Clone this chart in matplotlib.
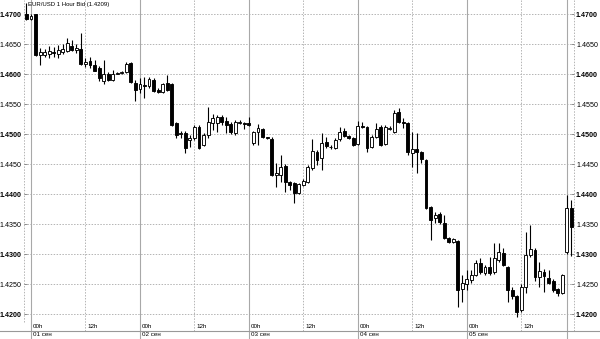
import matplotlib
matplotlib.use('Agg')
import matplotlib.pyplot as plt

plt.rcParams['font.family'] = ['Liberation Sans', 'DejaVu Sans']

# hourly bars, hour 0 = 01 сен 00h (first bar is sunday 23h)
hours = list(range(-1, 120))

opens = [1.4700, 1.4692, 1.4700, 1.4632, 1.4632, 1.4634, 1.4637, 1.4634, 1.4637, 1.4639,
         1.4647, 1.4640, 1.4642, 1.4617, 1.4622, 1.4616, 1.4610, 1.4589, 1.4601, 1.4591,
         1.4601, 1.4602, 1.4604, 1.4619, 1.4585, 1.4575, 1.4582, 1.4580, 1.4590, 1.4574,
         1.4570, 1.4586, 1.4584, 1.4518, 1.4500, 1.4502, 1.4490, 1.4493, 1.4512, 1.4482,
         1.4499, 1.4519, 1.4519, 1.4529, 1.4522, 1.4517, 1.4502, 1.4519, 1.4518, 1.4518,
         1.4485, 1.4503, 1.4509, 1.4495, 1.4492, 1.4432, 1.4432, 1.4447, 1.4420, 1.4418,
         1.4402, 1.4416, 1.4420, 1.4444, 1.4470, 1.4460, 1.4487, 1.4479, 1.4477, 1.4492,
         1.4505, 1.4497, 1.4493, 1.4484, 1.4514, 1.4512, 1.4479, 1.4495, 1.4512, 1.4484,
         1.4509, 1.4504, 1.4537, 1.4520, 1.4518, 1.4469, 1.4475, 1.4470, 1.4457, 1.4379,
         1.4360, 1.4367, 1.4352, 1.4327, 1.4320, 1.4322, 1.4242, 1.4250, 1.4257, 1.4265,
         1.4285, 1.4268, 1.4278, 1.4270, 1.4290, 1.4302, 1.4278, 1.4240, 1.4230, 1.4207,
         1.4245, 1.4298, 1.4307, 1.4262, 1.4270, 1.4260, 1.4255, 1.4242, 1.4235, 1.4304,
         1.4377]
highs = [1.4719, 1.4700, 1.4701, 1.4644, 1.4642, 1.4647, 1.4645, 1.4649, 1.4650, 1.4660,
         1.4657, 1.4650, 1.4669, 1.4627, 1.4629, 1.4624, 1.4614, 1.4624, 1.4603, 1.4607,
         1.4604, 1.4606, 1.4620, 1.4620, 1.4590, 1.4593, 1.4595, 1.4595, 1.4593, 1.4577,
         1.4586, 1.4599, 1.4586, 1.4520, 1.4505, 1.4505, 1.4498, 1.4515, 1.4515, 1.4502,
         1.4545, 1.4534, 1.4532, 1.4532, 1.4529, 1.4520, 1.4524, 1.4524, 1.4521, 1.4529,
         1.4505, 1.4517, 1.4511, 1.4496, 1.4495, 1.4452, 1.4465, 1.4450, 1.4422, 1.4420,
         1.4419, 1.4425, 1.4448, 1.4492, 1.4473, 1.4502, 1.4495, 1.4482, 1.4493, 1.4512,
         1.4510, 1.4499, 1.4495, 1.4522, 1.4520, 1.4514, 1.4498, 1.4519, 1.4515, 1.4515,
         1.4514, 1.4540, 1.4543, 1.4527, 1.4520, 1.4504, 1.4502, 1.4472, 1.4459, 1.4381,
         1.4370, 1.4370, 1.4365, 1.4329, 1.4327, 1.4324, 1.4265, 1.4273, 1.4273, 1.4290,
         1.4293, 1.4282, 1.4295, 1.4318, 1.4318, 1.4310, 1.4280, 1.4245, 1.4232, 1.4250,
         1.4337, 1.4348, 1.4310, 1.4287, 1.4275, 1.4274, 1.4258, 1.4244, 1.4267, 1.4398,
         1.4390]
lows = [1.4690, 1.4690, 1.4630, 1.4615, 1.4629, 1.4627, 1.4629, 1.4627, 1.4634, 1.4637,
        1.4639, 1.4635, 1.4615, 1.4612, 1.4610, 1.4605, 1.4589, 1.4584, 1.4588, 1.4589,
        1.4600, 1.4600, 1.4602, 1.4585, 1.4555, 1.4569, 1.4560, 1.4577, 1.4570, 1.4568,
        1.4568, 1.4572, 1.4513, 1.4494, 1.4494, 1.4468, 1.4478, 1.4490, 1.4475, 1.4480,
        1.4494, 1.4507, 1.4504, 1.4515, 1.4502, 1.4500, 1.4499, 1.4517, 1.4508, 1.4513,
        1.4482, 1.4482, 1.4493, 1.4492, 1.4430, 1.4412, 1.4420, 1.4404, 1.4407, 1.4385,
        1.4400, 1.4413, 1.4418, 1.4440, 1.4449, 1.4440, 1.4477, 1.4476, 1.4475, 1.4489,
        1.4495, 1.4492, 1.4480, 1.4482, 1.4510, 1.4470, 1.4477, 1.4493, 1.4480, 1.4482,
        1.4507, 1.4502, 1.4518, 1.4510, 1.4465, 1.4445, 1.4435, 1.4452, 1.4375, 1.4323,
        1.4352, 1.4350, 1.4325, 1.4318, 1.4318, 1.4212, 1.4220, 1.4240, 1.4252, 1.4263,
        1.4267, 1.4265, 1.4265, 1.4267, 1.4287, 1.4280, 1.4220, 1.4225, 1.4195, 1.4203,
        1.4235, 1.4295, 1.4255, 1.4245, 1.4237, 1.4250, 1.4237, 1.4230, 1.4233, 1.4300,
        1.4296]
closes = [1.4692, 1.4698, 1.4632, 1.4637, 1.4637, 1.4639, 1.4635, 1.4640, 1.4642, 1.4652,
          1.4640, 1.4644, 1.4617, 1.4620, 1.4615, 1.4606, 1.4594, 1.4601, 1.4591, 1.4601,
          1.4602, 1.4604, 1.4617, 1.4587, 1.4574, 1.4583, 1.4580, 1.4592, 1.4572, 1.4570,
          1.4584, 1.4574, 1.4515, 1.4498, 1.4502, 1.4477, 1.4494, 1.4512, 1.4477, 1.4499,
          1.4521, 1.4527, 1.4529, 1.4520, 1.4515, 1.4503, 1.4521, 1.4521, 1.4517, 1.4515,
          1.4503, 1.4510, 1.4495, 1.4493, 1.4432, 1.4435, 1.4445, 1.4420, 1.4415, 1.4402,
          1.4417, 1.4422, 1.4445, 1.4472, 1.4457, 1.4485, 1.4480, 1.4478, 1.4490, 1.4504,
          1.4497, 1.4494, 1.4482, 1.4514, 1.4512, 1.4477, 1.4495, 1.4509, 1.4482, 1.4512,
          1.4510, 1.4535, 1.4520, 1.4518, 1.4470, 1.4475, 1.4470, 1.4459, 1.4377, 1.4357,
          1.4365, 1.4353, 1.4327, 1.4320, 1.4325, 1.4240, 1.4252, 1.4258, 1.4265, 1.4285,
          1.4270, 1.4278, 1.4268, 1.4293, 1.4303, 1.4282, 1.4240, 1.4230, 1.4203, 1.4245,
          1.4298, 1.4309, 1.4262, 1.4272, 1.4263, 1.4252, 1.4240, 1.4235, 1.4265, 1.4377,
          1.4346]

price_ticks = [1.4200, 1.4250, 1.4300, 1.4350, 1.4400, 1.4450, 1.4500, 1.4550,
               1.4600, 1.4650, 1.4700]
day_hours = [0, 24, 48, 72, 96]
day_labels = ['01 сен', '02 сен', '03 сен', '04 сен', '05 сен']
noon_hours = [12, 36, 60, 84, 108]
last_bar_hour = 118
title = 'EUR/USD 1 Hour Bid (1.4209)'

W, H = 600, 339
fig = plt.figure(figsize=(W / 100, H / 100), dpi=100)
ax = fig.add_axes([24 / W, 17 / H, 550 / W, 322 / H])
ax.set_xlim(-1.54, 119.6)
ax.set_ylim(1.41867, 1.47239)

grid_col = '#b4b4b4'
line_col = '#a8a8a8'
dots = (0, (1.5, 1.5))

# horizontal dotted grid
for p in price_ticks:
    ax.axhline(p, color=grid_col, lw=0.7, ls=dots, zorder=1)

# vertical lines: solid at day start, dotted at noon; both run down into the label rows
xt = ax.get_xaxis_transform()
y_sep = (322 - 330.5) / 322    # axes coords of the separator line
y_bot = (322 - 339) / 322
for h in day_hours:
    ax.plot([h, h], [y_bot, 1], transform=xt, color=line_col, lw=0.8, clip_on=False, zorder=1)
for h in noon_hours:
    ax.plot([h, h], [y_sep, 1], transform=xt, color=grid_col, lw=0.7, ls=dots, clip_on=False, zorder=1)
ax.plot([last_bar_hour, last_bar_hour], [y_bot, 1], transform=xt, color=line_col, lw=0.8,
        clip_on=False, zorder=1)
ax.plot([119.6, 119.6], [y_sep, 1], transform=xt, color=grid_col, lw=0.7, ls=dots, clip_on=False, zorder=1)
ax.plot([-1.54, -1.54], [0, 1], transform=xt, color=grid_col, lw=0.7, ls=dots, clip_on=False, zorder=1)

# separator between hour row and date row, full width
fig.add_artist(plt.Line2D([0, 1], [1 - 330.5 / H, 1 - 330.5 / H], color='#999999', lw=0.8))

# candles
bottoms = [min(o, c) for o, c in zip(opens, closes)]
heights = [max(abs(c - o), 0.00006) for o, c in zip(opens, closes)]
fills = ['black' if c < o else 'white' for o, c in zip(opens, closes)]
ax.vlines(hours, lows, highs, colors='black', linewidth=0.8, zorder=3)
ax.bar(hours, heights, bottom=bottoms, width=0.64, color=fills, edgecolor='black',
       linewidth=0.65, zorder=4)

# y axis labels on both sides, bold every 0.01
ax.set_yticks(price_ticks)
ax.set_yticklabels(['%.4f' % p for p in price_ticks])
ax.tick_params(axis='y', left=True, right=True, labelleft=True, labelright=True,
               direction='in', length=2.5, width=0.6, color='#808080', pad=1.5, labelsize=5.1)
for t, p in zip(ax.yaxis.get_major_ticks(), price_ticks):
    if round(p * 1000) % 10 == 0:
        t.label1.set_fontweight('bold')
        t.label2.set_fontweight('bold')
ax.tick_params(axis='x', bottom=False, labelbottom=False)
for s in ax.spines.values():
    s.set_visible(False)

# hour and date labels below the plot
y_hr = (322 - 326) / 322
y_day = (322 - 335) / 322
for h in day_hours:
    ax.text(h + 0.45, y_hr, '00h', transform=xt, fontsize=4.5, va='center', ha='left')
for h in noon_hours:
    ax.text(h + 0.45, y_hr, '12h', transform=xt, fontsize=4.5, va='center', ha='left')
for h, lab in zip(day_hours, day_labels):
    ax.text(h + 0.45, y_day, lab, transform=xt, fontsize=4.5, va='center', ha='left')

fig.text(28 / W, 1 - 4.5 / H, title, fontsize=4.3, va='center', ha='left')

fig.savefig('out.png', dpi=100)
